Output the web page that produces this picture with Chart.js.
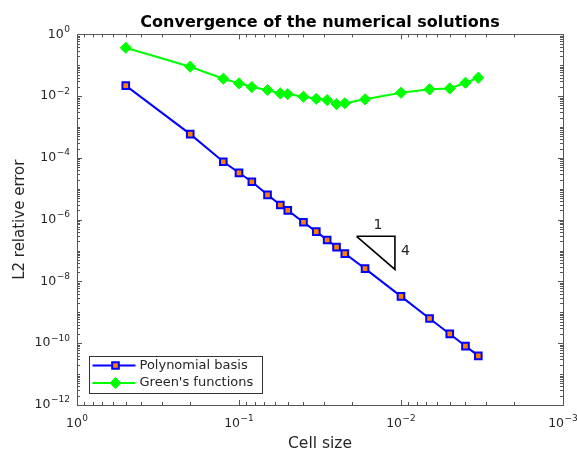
<!DOCTYPE html>
<html>
<head>
<meta charset="utf-8">
<script src="https://cdn.jsdelivr.net/npm/chart.js@4/dist/chart.umd.min.js"></script>
<style>
  html, body { margin: 0; padding: 0; background: #fff; }
</style>
</head>
<body>
<canvas id="convChart" width="577" height="452"></canvas>
<script>
const cellSize = [1/2, 1/5, 1/8, 1/10, 1/12, 1/15, 1/18, 1/20, 1/25, 1/30, 1/35, 1/40, 1/45, 1/60, 1/100, 1/150, 1/200, 1/250, 1/300];
const polyErr = [2.2e-2, 5.9e-4, 7.5e-5, 3.3e-5, 1.7e-5, 6.4e-6, 3.0e-6, 2.0e-6, 8.3e-7, 4.1e-7, 2.2e-7, 1.3e-7, 8.0e-8, 2.6e-8, 3.3e-9, 6.3e-10, 2.0e-10, 8.1e-11, 3.9e-11];
const greenErr = [0.37, 0.090, 0.0367, 0.026, 0.0197, 0.0158, 0.0123, 0.0117, 0.0096, 0.0082, 0.0075, 0.0055, 0.0059, 0.0079, 0.0129, 0.0166, 0.0178, 0.0272, 0.0395];
const seriesNames = ['Polynomial basis', "Green's functions"];
const xTicks = [1, 1e-1, 1e-2, 1e-3];
const yTicks = [1, 1e-2, 1e-4, 1e-6, 1e-8, 1e-10, 1e-12];
// slope triangle (order 4) and its labels
const slopeX = [0.0188, 0.0109, 0.0109, 0.0188];
const slopeY = [2.9e-7, 2.9e-7, 2.45e-8, 2.9e-7];
const slopeLabels = ['1', '4'];
const slopeLabelX = [0.0139, 0.0094];
const slopeLabelY = [6.6e-7, 9.1e-8];

const axisColor = '#555555';
const textColor = '#262626';
const FONT = '"DejaVu Sans"';

function expOf(v) {
  return String(Math.round(Math.log10(v))).replace('-', '\u2212');
}

// draws "10" with a raised exponent; align: 'center' or 'right'
function drawPow(ctx, v, x, y, align) {
  const base = '10', ex = expOf(v);
  ctx.font = '12.5px ' + FONT;
  const bw = ctx.measureText(base).width;
  ctx.font = '9px ' + FONT;
  const ew = ctx.measureText(ex).width;
  const w = bw + 0.5 + ew;
  const x0 = align === 'right' ? x - w : x - w / 2;
  ctx.textAlign = 'left';
  ctx.textBaseline = 'middle';
  ctx.font = '12.5px ' + FONT;
  ctx.fillText(base, x0, y);
  ctx.font = '9px ' + FONT;
  ctx.fillText(ex, x0 + bw + 0.5, y - 5);
}

// MATLAB-like box with inward ticks, tick labels, slope labels and legend
const boxTicks = {
  id: 'boxTicks',
  afterDatasetsDraw(chart) {
    const {ctx, chartArea: a, scales: {x, y}} = chart;
    ctx.save();
    ctx.strokeStyle = axisColor;
    ctx.lineWidth = 1;
    ctx.beginPath();
    for (let d = -3; d <= 0; d++) {
      for (let k = 1; k <= 9; k++) {
        const v = k * Math.pow(10, d);
        if (v > 1.0001) break;
        const px = Math.round(x.getPixelForValue(v)) + 0.5;
        const len = k === 1 ? 5 : 3;
        ctx.moveTo(px, a.bottom); ctx.lineTo(px, a.bottom - len);
        ctx.moveTo(px, a.top); ctx.lineTo(px, a.top + len);
      }
    }
    for (let d = -12; d <= 0; d++) {
      for (let k = 1; k <= 9; k++) {
        const v = k * Math.pow(10, d);
        if (v > 1.0001) break;
        const py = Math.round(y.getPixelForValue(v)) + 0.5;
        const len = (k === 1 && d % 2 === 0) ? 5 : 3;
        ctx.moveTo(a.left, py); ctx.lineTo(a.left + len, py);
        ctx.moveTo(a.right, py); ctx.lineTo(a.right - len, py);
      }
    }
    ctx.stroke();
    ctx.strokeRect(Math.round(a.left) + 0.5, Math.round(a.top) + 0.5,
      Math.round(a.right - a.left), Math.round(a.bottom - a.top));

    // tick labels
    ctx.fillStyle = textColor;
    xTicks.forEach(v => drawPow(ctx, v, x.getPixelForValue(v), a.bottom + 19, 'center'));
    yTicks.forEach(v => drawPow(ctx, v, a.left - 7, y.getPixelForValue(v), 'right'));

    // slope labels
    ctx.font = '14px ' + FONT;
    ctx.textAlign = 'center';
    ctx.textBaseline = 'middle';
    slopeLabels.forEach((t, i) => {
      ctx.fillText(t, x.getPixelForValue(slopeLabelX[i]), y.getPixelForValue(slopeLabelY[i]));
    });

    // legend in the lower-left corner
    const lx = a.left + 11.5, lw = 173, lh = 37, ly = a.bottom - 12.5 - lh;
    ctx.fillStyle = '#fff';
    ctx.fillRect(lx, ly, lw, lh);
    ctx.strokeStyle = '#333';
    ctx.lineWidth = 1;
    ctx.strokeRect(Math.round(lx) + 0.5, Math.round(ly) + 0.5, lw, lh);
    ctx.font = '13px ' + FONT;
    ctx.textAlign = 'left';
    chart.data.datasets.slice(0, 2).forEach((ds, i) => {
      const ry = ly + 10 + i * 17.5;
      ctx.strokeStyle = ds.borderColor;
      ctx.lineWidth = ds.borderWidth;
      ctx.beginPath();
      ctx.moveTo(lx + 4, ry); ctx.lineTo(lx + 47, ry);
      ctx.stroke();
      const cx = lx + 27;
      ctx.fillStyle = ds.pointBackgroundColor;
      ctx.strokeStyle = ds.pointBorderColor;
      ctx.lineWidth = ds.pointBorderWidth;
      ctx.beginPath();
      if (ds.pointStyle === 'rect') {
        const s = ds.pointRadius * Math.SQRT1_2;
        ctx.rect(cx - s, ry - s, 2 * s, 2 * s);
      } else {
        const r = ds.pointRadius;
        ctx.moveTo(cx, ry - r); ctx.lineTo(cx + r, ry);
        ctx.lineTo(cx, ry + r); ctx.lineTo(cx - r, ry); ctx.closePath();
      }
      ctx.fill(); ctx.stroke();
      ctx.fillStyle = textColor;
      ctx.fillText(ds.label, lx + 51, ry);
    });
    ctx.restore();
  }
};

const ctx = document.getElementById('convChart').getContext('2d');

new Chart(ctx, {
  type: 'line',
  data: {
    datasets: [{
      label: seriesNames[0],
      data: cellSize.map((c, i) => ({x: c, y: polyErr[i]})),
      borderColor: '#0000ff',
      borderWidth: 2,
      pointStyle: 'rect',
      pointRadius: 4.7,
      pointBackgroundColor: '#ff8000',
      pointBorderColor: '#0000ff',
      pointBorderWidth: 2
    }, {
      label: seriesNames[1],
      data: cellSize.map((c, i) => ({x: c, y: greenErr[i]})),
      borderColor: '#00ff00',
      borderWidth: 2,
      pointStyle: 'rectRot',
      pointRadius: 5.6,
      pointBackgroundColor: '#00ff00',
      pointBorderColor: '#00ff00',
      pointBorderWidth: 1
    }, {
      label: 'slope',
      data: slopeX.map((c, i) => ({x: c, y: slopeY[i]})),
      borderColor: '#000000',
      borderWidth: 1.6,
      pointRadius: 0
    }]
  },
  options: {
    responsive: false,
    animation: false,
    devicePixelRatio: 1,
    layout: { padding: { top: 0, right: 14, bottom: 0, left: 0 } },
    plugins: {
      legend: { display: false },
      tooltip: { enabled: false },
      title: {
        display: true,
        fullSize: false,
        text: 'Convergence of the numerical solutions',
        color: '#000',
        font: { family: 'DejaVu Sans', size: 16, weight: 'bold', lineHeight: 1.2 },
        padding: { top: 13, bottom: 2.2 }
      }
    },
    scales: {
      x: {
        type: 'logarithmic',
        reverse: true,
        min: 1e-3,
        max: 1,
        grid: { display: false, drawTicks: false },
        border: { display: true, color: axisColor },
        afterBuildTicks: s => { s.ticks = xTicks.map(v => ({value: v})); },
        afterFit: s => { s.height = 47; s.paddingLeft = 0; s.paddingRight = 0; },
        ticks: { display: false },
        title: {
          display: true,
          text: 'Cell size',
          color: textColor,
          font: { family: 'DejaVu Sans', size: 15.5, lineHeight: 1 },
          padding: { top: 0, bottom: 0 }
        }
      },
      y: {
        type: 'logarithmic',
        min: 1e-12,
        max: 1,
        grid: { display: false, drawTicks: false },
        border: { display: true, color: axisColor },
        afterBuildTicks: s => { s.ticks = yTicks.map(v => ({value: v})); },
        afterFit: s => { s.width = 77; s.paddingTop = 0; s.paddingBottom = 0; },
        ticks: { display: false },
        title: {
          display: true,
          text: 'L2 relative error',
          color: textColor,
          font: { family: 'DejaVu Sans', size: 15, lineHeight: 1 },
          padding: { top: 12.5, bottom: 0 }
        }
      }
    }
  },
  plugins: [boxTicks]
});
</script>
</body>
</html>
